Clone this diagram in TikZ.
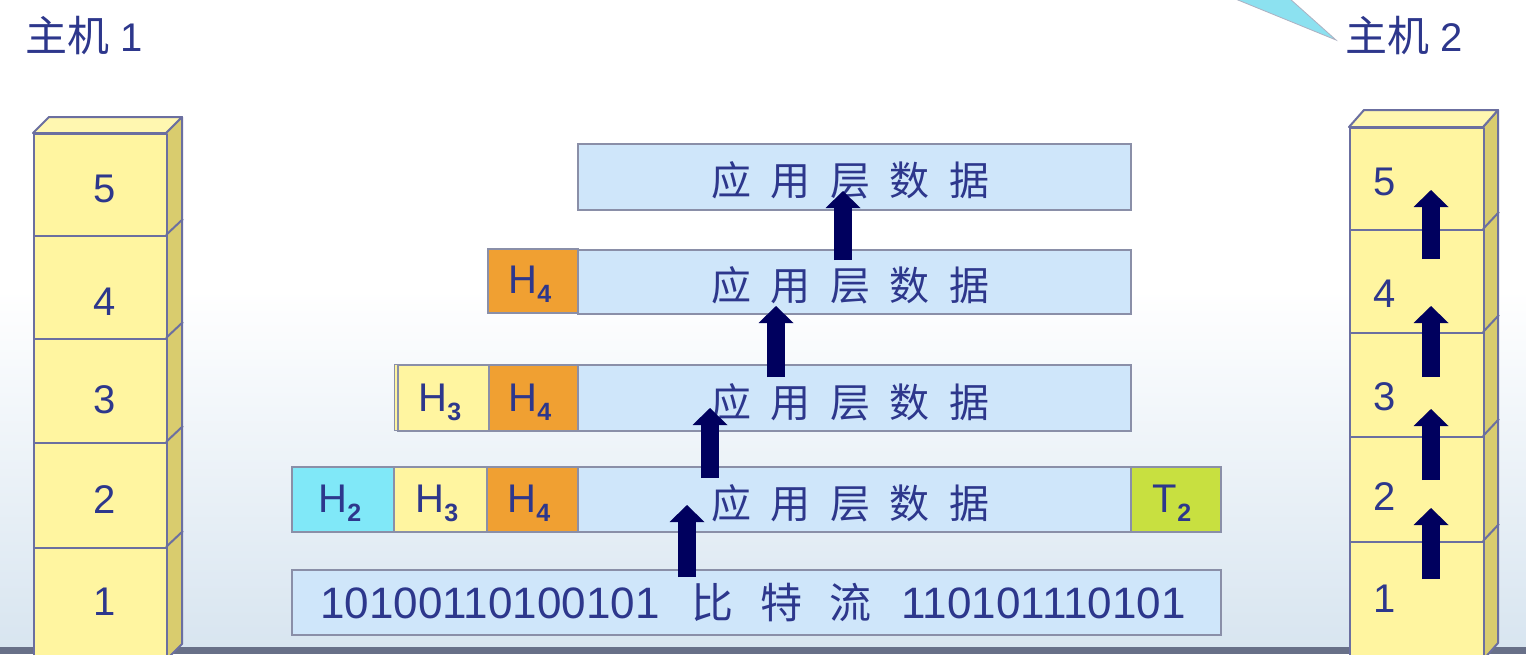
\documentclass[tikz,border=0pt]{standalone}
\usepackage{fontspec}
\setmainfont{Liberation Sans}
\newfontfamily\cjk{Noto Sans CJK SC}
\usetikzlibrary{arrows.meta}
\definecolor{textblue}{RGB}{45,55,140}
\definecolor{stackfront}{RGB}{255,245,160}
\definecolor{stacktop}{RGB}{255,247,176}
\definecolor{stackside}{RGB}{217,204,110}
\definecolor{stackline}{RGB}{107,111,160}
\definecolor{datablue}{RGB}{207,230,250}
\definecolor{boxline}{RGB}{138,143,168}
\definecolor{orangeH}{RGB}{240,160,50}
\definecolor{yellowH}{RGB}{255,245,160}
\definecolor{cyanH}{RGB}{128,232,248}
\definecolor{greenT}{RGB}{200,224,64}
\definecolor{navyarrow}{RGB}{0,0,94}
\definecolor{bgblue}{RGB}{216,229,240}
\definecolor{groundline}{RGB}{104,112,136}
\definecolor{calloutcyan}{RGB}{140,225,240}
\newcommand\mylabH[2]{#1\raisebox{-9pt}{\fontsize{25pt}{25pt}\selectfont\bfseries #2}}
\newcommand\myappdata{应\hspace{19.5pt}用\hspace{19.5pt}层\hspace{19.5pt}数\hspace{19.5pt}据}
\begin{document}
\begin{tikzpicture}[x=1pt,y=-1pt,
  stackface/.style={fill=stackfront,draw=stackline,line width=2pt,line join=round},
  layerbox/.style={stackface,inner sep=0pt,minimum width=#1,anchor=north west},
  box/.style={draw=boxline,line width=1.5pt,inner sep=0pt,anchor=north west},
  txt/.style={text=textblue,inner sep=0pt,anchor=base},
  numfont/.style={font=\fontsize{40pt}{48pt}\selectfont},
  cjkfont/.style={font=\fontsize{40pt}{48pt}\selectfont\cjk},
  bigarrow/.style={draw=navyarrow,line width=18pt,-{Triangle[width=35pt,length=17pt,line width=0pt]}}
]
\useasboundingbox (0,0) rectangle (1526,654);
% background
\fill[white] (0,0) rectangle (1526,654);
\shade[top color=white,bottom color=bgblue] (0,290) rectangle (1526,647);
\fill[groundline] (0,647) rectangle (1526,654);
% callout pointer
\filldraw[fill=calloutcyan,draw=boxline!70,line width=0.8pt] (1233,-2) -- (1289,-2) -- (1336,40) -- cycle;

% host labels
\node[txt,numfont,anchor=base west] (host1) at (25,51) {{\fontsize{42pt}{48pt}\selectfont\cjk 主机} 1};
\node[txt,numfont,anchor=base west] (host2) at (1345,51) {{\fontsize{42pt}{48pt}\selectfont\cjk 主机} 2};

% ---------- left stack ----------
\filldraw[fill=stackside,draw=stackline,line width=2pt,line join=round] (166,133) -- (182,117) -- (182,644) -- (166,660) -- cycle;
\filldraw[fill=stacktop,draw=stackline,line width=2pt,line join=round] (33,133) -- (49,117) -- (182,117) -- (166,133) -- cycle;
\node[layerbox=133pt,minimum height=102pt] (L5) at (33,133) {};
\node[layerbox=133pt,minimum height=103pt] (L4) at (33,235) {};
\node[layerbox=133pt,minimum height=104pt] (L3) at (33,338) {};
\node[layerbox=133pt,minimum height=105pt] (L2) at (33,442) {};
\node[layerbox=133pt,minimum height=115pt] (L1) at (33,547) {};
\foreach \yy in {235,338,442,547} \draw[stackline,line width=2pt] (166,\yy) -- (183,\yy-16);
\node[txt,numfont] (n5) at (105,202) {5};
\node[txt,numfont] (n4) at (105,315) {4};
\node[txt,numfont] (n3) at (105,413) {3};
\node[txt,numfont] (n2) at (105,513) {2};
\node[txt,numfont] (n1) at (105,615) {1};

% ---------- right stack ----------
\filldraw[fill=stackside,draw=stackline,line width=2pt,line join=round] (1483,127) -- (1498,110) -- (1498,643) -- (1483,660) -- cycle;
\filldraw[fill=stacktop,draw=stackline,line width=2pt,line join=round] (1349,127) -- (1364,110) -- (1498,110) -- (1483,127) -- cycle;
\node[layerbox=134pt,minimum height=102pt] (R5) at (1349,127) {};
\node[layerbox=134pt,minimum height=103pt] (R4) at (1349,229) {};
\node[layerbox=134pt,minimum height=104pt] (R3) at (1349,332) {};
\node[layerbox=134pt,minimum height=105pt] (R2) at (1349,436) {};
\node[layerbox=134pt,minimum height=119pt] (R1) at (1349,541) {};
\foreach \yy in {229,332,436,541} \draw[stackline,line width=2pt] (1483,\yy) -- (1499,\yy-17);
\node[txt,numfont] (m5) at (1385,195) {5};
\node[txt,numfont] (m4) at (1385,307) {4};
\node[txt,numfont] (m3) at (1385,410) {3};
\node[txt,numfont] (m2) at (1385,510) {2};
\node[txt,numfont] (m1) at (1385,612) {1};

% ---------- PDU rows ----------
% row 5
\node[box,fill=datablue,minimum width=553pt,minimum height=66pt] (d5) at (577,143) {};
\node[txt,cjkfont] (t5) at (850,195.6) {\myappdata};
% row 4
\node[box,fill=orangeH,minimum width=90pt,minimum height=64pt] (h4a) at (487,248) {};
\node[box,fill=datablue,minimum width=553pt,minimum height=64pt] (d4) at (577,249) {};
\node[txt,cjkfont] (t4) at (850,300) {\myappdata};
\node[txt,numfont] (lh4a) at (530,293) {\mylabH{H}{4}};
% row 3
\filldraw[fill=yellowH,draw=boxline,line width=1pt] (394,364) rectangle (397,430);
\node[box,fill=yellowH,minimum width=91pt,minimum height=66pt] (h3b) at (397,364) {};
\node[box,fill=orangeH,minimum width=89pt,minimum height=66pt] (h4b) at (488,364) {};
\node[box,fill=datablue,minimum width=553pt,minimum height=66pt] (d3) at (577,364) {};
\node[txt,cjkfont] (t3) at (850,417) {\myappdata};
\node[txt,numfont] (lh3b) at (440,411) {\mylabH{H}{3}};
\node[txt,numfont] (lh4b) at (530,411) {\mylabH{H}{4}};
% row 2
\node[box,fill=cyanH,minimum width=102pt,minimum height=65pt] (h2c) at (291,466) {};
\node[box,fill=yellowH,minimum width=93pt,minimum height=65pt] (h3c) at (393,466) {};
\node[box,fill=orangeH,minimum width=91pt,minimum height=65pt] (h4c) at (486,466) {};
\node[box,fill=datablue,minimum width=553pt,minimum height=65pt] (d2) at (577,466) {};
\node[box,fill=greenT,minimum width=90pt,minimum height=65pt] (t2c) at (1130,466) {};
\node[txt,cjkfont] (t2) at (850,518) {\myappdata};
\node[txt,numfont] (lh2c) at (340,512) {\mylabH{H}{2}};
\node[txt,numfont] (lh3c) at (437,512) {\mylabH{H}{3}};
\node[txt,numfont] (lh4c) at (529,512) {\mylabH{H}{4}};
\node[txt,numfont] (lt2c) at (1172,512) {\mylabH{T}{2}};
% row 1: bit stream
\node[box,fill=datablue,minimum width=929pt,minimum height=65pt] (bits) at (291,569) {};
\node[txt,font=\fontsize{44pt}{52pt}\selectfont] (bitstext) at (753,618)
  {10100110100101\hspace{32pt}{\fontsize{42pt}{50pt}\selectfont\cjk 比\hspace{27pt}特\hspace{27pt}流}\hspace{30pt}110101110101};

% ---------- arrows ----------
\coordinate (ca1) at (687,577); \coordinate (ca2) at (687,505);
\coordinate (cb1) at (710,478); \coordinate (cb2) at (710,408);
\coordinate (cc1) at (776,377); \coordinate (cc2) at (776,306);
\coordinate (cd1) at (843,260); \coordinate (cd2) at (843,191);
\draw[bigarrow] (ca1) -- (ca2);
\draw[bigarrow] (cb1) -- (cb2);
\draw[bigarrow] (cc1) -- (cc2);
\draw[bigarrow] (cd1) -- (cd2);
\coordinate (ra1) at (1431,579); \coordinate (ra2) at (1431,508);
\coordinate (rb1) at (1431,480); \coordinate (rb2) at (1431,409);
\coordinate (rc1) at (1431,377); \coordinate (rc2) at (1431,306);
\coordinate (rd1) at (1431,259); \coordinate (rd2) at (1431,190);
\draw[bigarrow] (ra1) -- (ra2);
\draw[bigarrow] (rb1) -- (rb2);
\draw[bigarrow] (rc1) -- (rc2);
\draw[bigarrow] (rd1) -- (rd2);
\end{tikzpicture}
\end{document}
